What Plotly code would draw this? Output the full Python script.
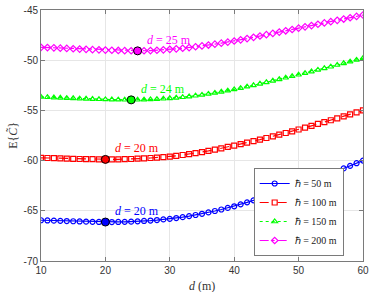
import plotly.graph_objects as go

d_vals = list(range(10, 61))

h50 = [-65.94, -65.96, -65.98, -66.00, -66.02, -66.04, -66.06, -66.08, -66.10, -66.11,
       -66.12, -66.12, -66.11, -66.10, -66.08, -66.05, -66.01, -65.97, -65.92, -65.86,
       -65.80, -65.72, -65.63, -65.53, -65.42, -65.30, -65.16, -65.02, -64.87, -64.71,
       -64.55, -64.36, -64.16, -63.96, -63.76, -63.55, -63.33, -63.11, -62.89, -62.67,
       -62.45, -62.22, -61.99, -61.76, -61.53, -61.30, -61.04, -60.78, -60.52, -60.26,
       -60.00]

h100 = [-59.72, -59.74, -59.76, -59.78, -59.80, -59.82, -59.84, -59.85, -59.86, -59.87,
        -59.88, -59.88, -59.87, -59.86, -59.84, -59.81, -59.78, -59.74, -59.70, -59.65,
        -59.60, -59.52, -59.44, -59.35, -59.25, -59.15, -59.03, -58.91, -58.78, -58.64,
        -58.50, -58.36, -58.21, -58.06, -57.91, -57.75, -57.59, -57.42, -57.25, -57.08,
        -56.90, -56.72, -56.54, -56.35, -56.17, -55.98, -55.79, -55.59, -55.40, -55.20,
        -55.00]

h150 = [-53.66, -53.69, -53.72, -53.75, -53.78, -53.80, -53.83, -53.85, -53.87, -53.89,
        -53.91, -53.92, -53.93, -53.94, -53.95, -53.94, -53.93, -53.91, -53.88, -53.84,
        -53.80, -53.75, -53.69, -53.62, -53.54, -53.46, -53.36, -53.26, -53.15, -53.03,
        -52.91, -52.78, -52.64, -52.50, -52.35, -52.20, -52.05, -51.90, -51.75, -51.60,
        -51.45, -51.29, -51.13, -50.97, -50.81, -50.65, -50.48, -50.31, -50.14, -49.97,
        -49.80]

h200 = [-48.72, -48.74, -48.77, -48.80, -48.83, -48.86, -48.89, -48.92, -48.95, -48.97,
        -48.99, -49.01, -49.03, -49.05, -49.06, -49.07, -49.06, -49.04, -49.01, -48.97,
        -48.92, -48.87, -48.81, -48.74, -48.66, -48.58, -48.49, -48.40, -48.30, -48.20,
        -48.09, -47.97, -47.85, -47.72, -47.59, -47.46, -47.33, -47.20, -47.07, -46.94,
        -46.81, -46.68, -46.55, -46.42, -46.29, -46.16, -46.03, -45.90, -45.77, -45.64,
        -45.50]

series_names = ["ℏ = 50 m", "ℏ = 100 m", "ℏ = 150 m", "ℏ = 200 m"]
series_vals = [h50, h100, h150, h200]
opt_d = [20, 20, 24, 25]
opt_labels = ["<i>d</i> = 20 m", "<i>d</i> = 20 m", "<i>d</i> = 24 m", "<i>d</i> = 25 m"]

colors = ["#0000ff", "#ff0000", "#00ff00", "#ff00ff"]
dashes = ["solid", "dash", "dot", "dashdot"]
symbols = ["circle-open", "square-open", "triangle-up-open", "diamond-open"]

x_ticks = [10, 20, 30, 40, 50, 60]
y_ticks = [-70, -65, -60, -55, -50, -45]

fig = go.Figure()
for name, vals, c, ds, sym in zip(series_names, series_vals, colors, dashes, symbols):
    fig.add_trace(go.Scatter(
        x=d_vals, y=vals, mode="lines+markers", name=name,
        line=dict(color=c, width=1.2, dash=ds),
        marker=dict(symbol=sym, size=5, color=c, line=dict(width=1.2, color=c)),
    ))

for vals, c, od, lab in zip(series_vals, colors, opt_d, opt_labels):
    yv = vals[d_vals.index(od)]
    fig.add_trace(go.Scatter(
        x=[od], y=[yv], mode="markers", showlegend=False,
        marker=dict(symbol="circle", size=8, color=c, line=dict(width=1, color="#000000")),
    ))
    fig.add_annotation(x=od + 1.2, y=yv + 1.1, text=lab, showarrow=False,
                       xanchor="left", yanchor="middle",
                       font=dict(family="Liberation Serif", size=12, color=c))

fig.add_annotation(xref="paper", yref="paper", x=0.5, y=-0.098, text="<i>d</i> (m)",
                   showarrow=False, xanchor="center", yanchor="middle",
                   font=dict(family="Liberation Serif", size=12, color="#333333"))
fig.add_annotation(xref="paper", yref="paper", x=-0.089, y=0.5, text="E{<i>C̃</i>}",
                   showarrow=False, xanchor="center", yanchor="middle", textangle=-90,
                   font=dict(family="Liberation Serif", size=12, color="#333333"))

axis_common = dict(
    showline=True, linecolor="#7a7a7a", linewidth=1, mirror="ticks",
    ticks="inside", ticklen=4, tickcolor="#7a7a7a",
    showgrid=True, gridcolor="#e6e6e6", gridwidth=1, zeroline=False,
    ticklabeloverflow="allow",
    tickfont=dict(family="Liberation Sans", size=10, color="#333333"),
)

fig.update_layout(
    width=373, height=292,
    margin=dict(l=41, r=5, t=4, b=31),
    plot_bgcolor="white", paper_bgcolor="white",
    xaxis=dict(range=[10, 60], tickvals=x_ticks, ticktext=[str(v) for v in x_ticks],
               **axis_common),
    yaxis=dict(range=[-70, -45], tickvals=y_ticks, ticktext=[str(v) for v in y_ticks],
               **axis_common),
    legend=dict(x=0.94, y=0.02, xanchor="right", yanchor="bottom",
                bgcolor="white", bordercolor="#7a7a7a", borderwidth=1,
                font=dict(family="Liberation Serif", size=10, color="#222222"),
                tracegroupgap=0, itemwidth=30),
    showlegend=True,
)

fig.write_html("out.html", config={"displayModeBar": False},
               post_script="document.body.style.margin='0';document.body.style.overflow='hidden';")
